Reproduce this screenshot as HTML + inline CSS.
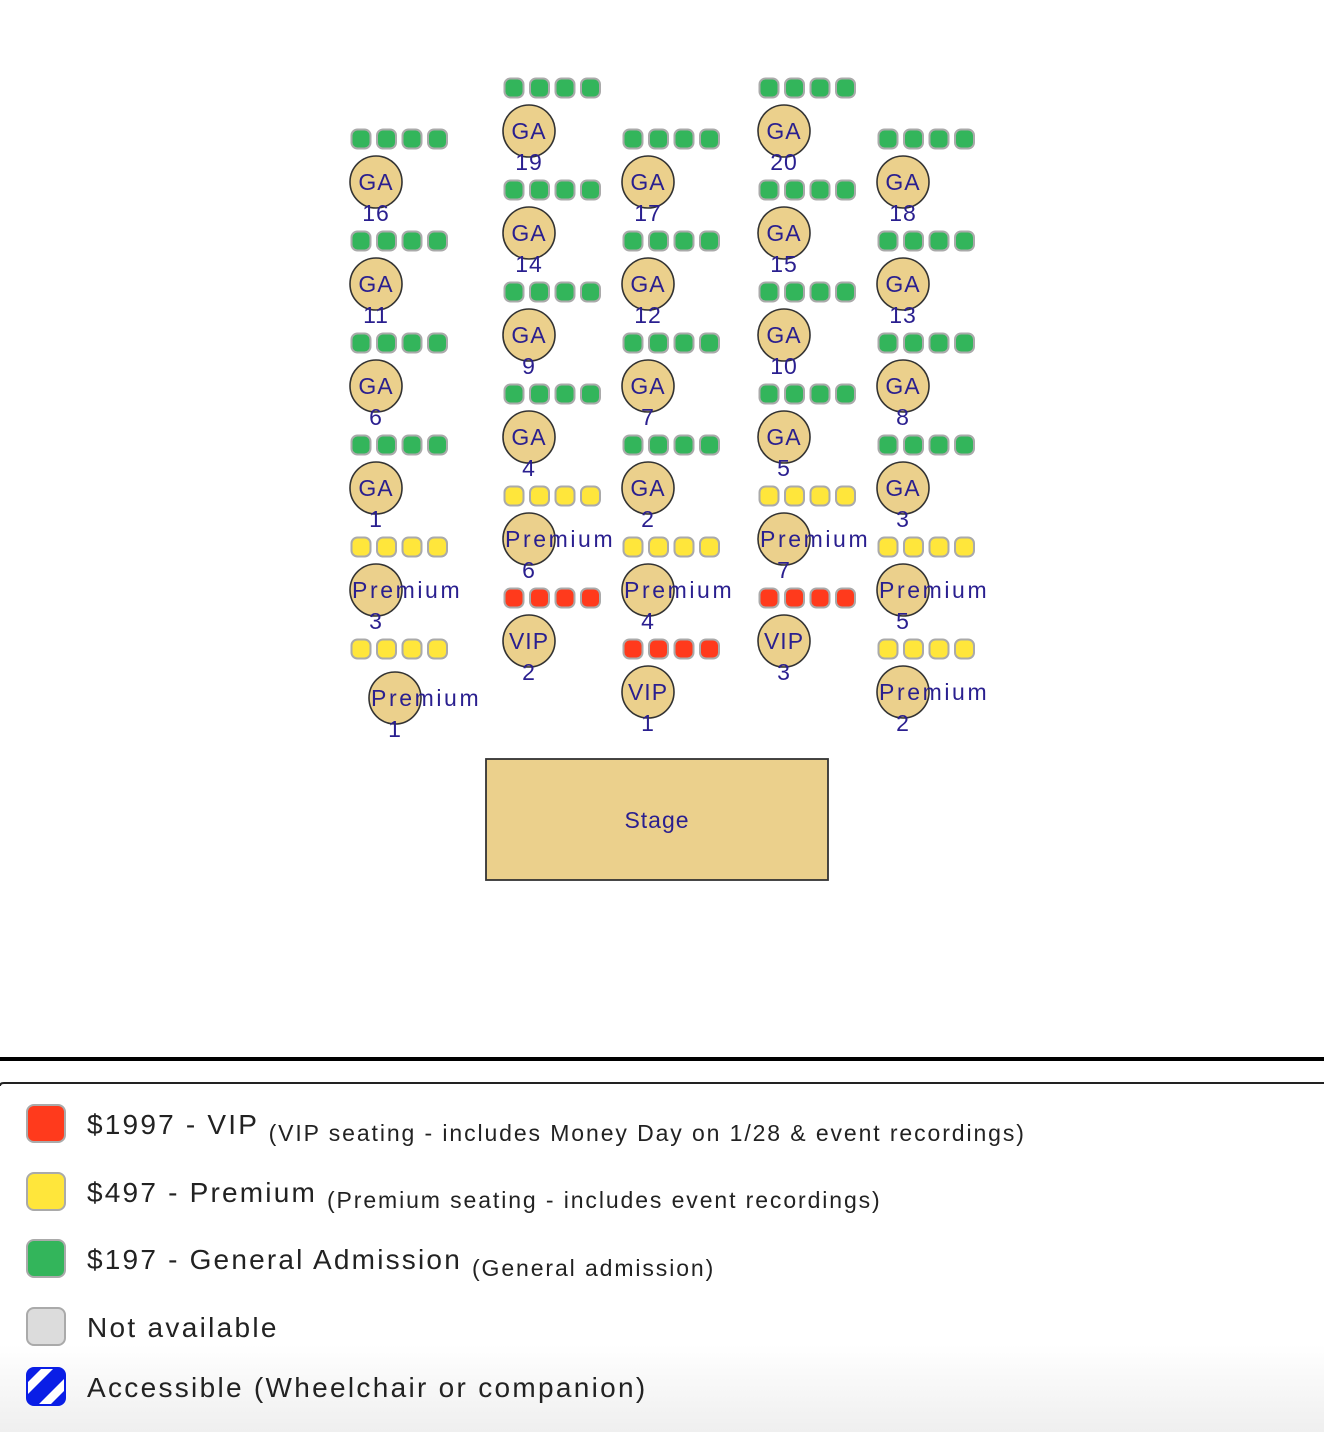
<!DOCTYPE html>
<html><head><meta charset="utf-8"><style>
html,body{margin:0;padding:0;width:1324px;height:1432px;overflow:hidden;background:#fff;font-family:"Liberation Sans",sans-serif}
.t text{font-family:"Liberation Sans",sans-serif;font-size:23px;fill:#2a1f8f;letter-spacing:1px}
.t text.p{letter-spacing:2.6px}
</style></head><body>
<svg width="1324" height="1432" style="position:absolute;left:0;top:0">
<defs>
<linearGradient id="bg" x1="0" y1="0" x2="0" y2="1"><stop offset="0.75" stop-color="#fff"/><stop offset="1" stop-color="#efefef"/></linearGradient>
<g id="sg" stroke="#aaa" stroke-width="2" fill="#33b55b"><rect x="-24.5" y="-52.5" width="19" height="19" rx="6"/><rect x="1" y="-52.5" width="19" height="19" rx="6"/><rect x="26.5" y="-52.5" width="19" height="19" rx="6"/><rect x="52" y="-52.5" width="19" height="19" rx="6"/></g>
<g id="sy" stroke="#aaa" stroke-width="2" fill="#ffe63b"><rect x="-24.5" y="-52.5" width="19" height="19" rx="6"/><rect x="1" y="-52.5" width="19" height="19" rx="6"/><rect x="26.5" y="-52.5" width="19" height="19" rx="6"/><rect x="52" y="-52.5" width="19" height="19" rx="6"/></g>
<g id="sr" stroke="#aaa" stroke-width="2" fill="#ff3a1c"><rect x="-24.5" y="-52.5" width="19" height="19" rx="6"/><rect x="1" y="-52.5" width="19" height="19" rx="6"/><rect x="26.5" y="-52.5" width="19" height="19" rx="6"/><rect x="52" y="-52.5" width="19" height="19" rx="6"/></g>
<circle id="c" r="26" fill="#ebd08c" stroke="#333" stroke-width="1.6"/>
</defs>
<rect x="0" y="1083" width="1324" height="349" fill="url(#bg)"/>
<g class="t">
<g transform="translate(376,182)"><use href="#sg"/><use href="#c"/><text y="8" text-anchor="middle">GA</text><text y="39" text-anchor="middle">16</text></g>
<g transform="translate(376,284)"><use href="#sg"/><use href="#c"/><text y="8" text-anchor="middle">GA</text><text y="39" text-anchor="middle">11</text></g>
<g transform="translate(376,386)"><use href="#sg"/><use href="#c"/><text y="8" text-anchor="middle">GA</text><text y="39" text-anchor="middle">6</text></g>
<g transform="translate(376,488)"><use href="#sg"/><use href="#c"/><text y="8" text-anchor="middle">GA</text><text y="39" text-anchor="middle">1</text></g>
<g transform="translate(376,590)"><use href="#sy"/><use href="#c"/><text class="p" x="-24" y="8">Premium</text><text y="39" text-anchor="middle">3</text></g>
<g transform="translate(376,698)"><use href="#sy" y="-6"/></g>
<g transform="translate(395,698)"><use href="#c"/><text class="p" x="-24" y="8">Premium</text><text y="39" text-anchor="middle">1</text></g>
<g transform="translate(529,131)"><use href="#sg"/><use href="#c"/><text y="8" text-anchor="middle">GA</text><text y="39" text-anchor="middle">19</text></g>
<g transform="translate(529,233)"><use href="#sg"/><use href="#c"/><text y="8" text-anchor="middle">GA</text><text y="39" text-anchor="middle">14</text></g>
<g transform="translate(529,335)"><use href="#sg"/><use href="#c"/><text y="8" text-anchor="middle">GA</text><text y="39" text-anchor="middle">9</text></g>
<g transform="translate(529,437)"><use href="#sg"/><use href="#c"/><text y="8" text-anchor="middle">GA</text><text y="39" text-anchor="middle">4</text></g>
<g transform="translate(529,539)"><use href="#sy"/><use href="#c"/><text class="p" x="-24" y="8">Premium</text><text y="39" text-anchor="middle">6</text></g>
<g transform="translate(529,641)"><use href="#sr"/><use href="#c"/><text y="8" text-anchor="middle">VIP</text><text y="39" text-anchor="middle">2</text></g>
<g transform="translate(648,182)"><use href="#sg"/><use href="#c"/><text y="8" text-anchor="middle">GA</text><text y="39" text-anchor="middle">17</text></g>
<g transform="translate(648,284)"><use href="#sg"/><use href="#c"/><text y="8" text-anchor="middle">GA</text><text y="39" text-anchor="middle">12</text></g>
<g transform="translate(648,386)"><use href="#sg"/><use href="#c"/><text y="8" text-anchor="middle">GA</text><text y="39" text-anchor="middle">7</text></g>
<g transform="translate(648,488)"><use href="#sg"/><use href="#c"/><text y="8" text-anchor="middle">GA</text><text y="39" text-anchor="middle">2</text></g>
<g transform="translate(648,590)"><use href="#sy"/><use href="#c"/><text class="p" x="-24" y="8">Premium</text><text y="39" text-anchor="middle">4</text></g>
<g transform="translate(648,692)"><use href="#sr"/><use href="#c"/><text y="8" text-anchor="middle">VIP</text><text y="39" text-anchor="middle">1</text></g>
<g transform="translate(784,131)"><use href="#sg"/><use href="#c"/><text y="8" text-anchor="middle">GA</text><text y="39" text-anchor="middle">20</text></g>
<g transform="translate(784,233)"><use href="#sg"/><use href="#c"/><text y="8" text-anchor="middle">GA</text><text y="39" text-anchor="middle">15</text></g>
<g transform="translate(784,335)"><use href="#sg"/><use href="#c"/><text y="8" text-anchor="middle">GA</text><text y="39" text-anchor="middle">10</text></g>
<g transform="translate(784,437)"><use href="#sg"/><use href="#c"/><text y="8" text-anchor="middle">GA</text><text y="39" text-anchor="middle">5</text></g>
<g transform="translate(784,539)"><use href="#sy"/><use href="#c"/><text class="p" x="-24" y="8">Premium</text><text y="39" text-anchor="middle">7</text></g>
<g transform="translate(784,641)"><use href="#sr"/><use href="#c"/><text y="8" text-anchor="middle">VIP</text><text y="39" text-anchor="middle">3</text></g>
<g transform="translate(903,182)"><use href="#sg"/><use href="#c"/><text y="8" text-anchor="middle">GA</text><text y="39" text-anchor="middle">18</text></g>
<g transform="translate(903,284)"><use href="#sg"/><use href="#c"/><text y="8" text-anchor="middle">GA</text><text y="39" text-anchor="middle">13</text></g>
<g transform="translate(903,386)"><use href="#sg"/><use href="#c"/><text y="8" text-anchor="middle">GA</text><text y="39" text-anchor="middle">8</text></g>
<g transform="translate(903,488)"><use href="#sg"/><use href="#c"/><text y="8" text-anchor="middle">GA</text><text y="39" text-anchor="middle">3</text></g>
<g transform="translate(903,590)"><use href="#sy"/><use href="#c"/><text class="p" x="-24" y="8">Premium</text><text y="39" text-anchor="middle">5</text></g>
<g transform="translate(903,692)"><use href="#sy"/><use href="#c"/><text class="p" x="-24" y="8">Premium</text><text y="39" text-anchor="middle">2</text></g>
<rect x="486" y="759" width="342" height="121" fill="#ebd08c" stroke="#333" stroke-width="1.8"/>
<text x="657" y="828" text-anchor="middle">Stage</text>
</g>
<rect x="0" y="1057" width="1324" height="4" fill="#000"/>
<path d="M0 1086 Q0 1083 4 1083 L1324 1083" fill="none" stroke="#222" stroke-width="2"/>
<g stroke="#aaa" stroke-width="2">
<rect x="27" y="1105" width="38" height="37" rx="7" fill="#ff3a1c"/>
<rect x="27" y="1173" width="38" height="37" rx="7" fill="#ffe63b"/>
<rect x="27" y="1240" width="38" height="37" rx="7" fill="#33b55b"/>
<rect x="27" y="1308" width="38" height="37" rx="7" fill="#dcdcdc"/>
</g>
<clipPath id="ac"><rect x="27" y="1368" width="38" height="37" rx="7"/></clipPath>
<g clip-path="url(#ac)">
<rect x="27" y="1368" width="38" height="37" fill="#0a1ee6"/>
<path d="M38 1405 L65 1378 L65 1390 L50 1405 Z M27 1395 L54 1368 L42 1368 L27 1383 Z" fill="#fff"/>
</g>
<rect x="27" y="1368" width="38" height="37" rx="7" fill="none" stroke="#0a1ee6" stroke-width="2"/>
<g fill="#222" font-family="Liberation Sans, sans-serif">
<text x="87" y="1134" font-size="28" letter-spacing="2.2">$1997 - VIP <tspan font-size="23" dy="7" letter-spacing="1.9">(VIP seating - includes Money Day on 1/28 &amp; event recordings)</tspan></text>
<text x="87" y="1202" font-size="28" letter-spacing="2.2">$497 - Premium <tspan font-size="23" dy="6" letter-spacing="1.9">(Premium seating - includes event recordings)</tspan></text>
<text x="87" y="1269" font-size="28" letter-spacing="2.2">$197 - General Admission <tspan font-size="23" dy="7" letter-spacing="1.9">(General admission)</tspan></text>
<text x="87" y="1337" font-size="28" letter-spacing="2.3">Not available</text>
<text x="87" y="1397" font-size="28" letter-spacing="2.3">Accessible (Wheelchair or companion)</text>
</g>
</svg>
</body></html>
